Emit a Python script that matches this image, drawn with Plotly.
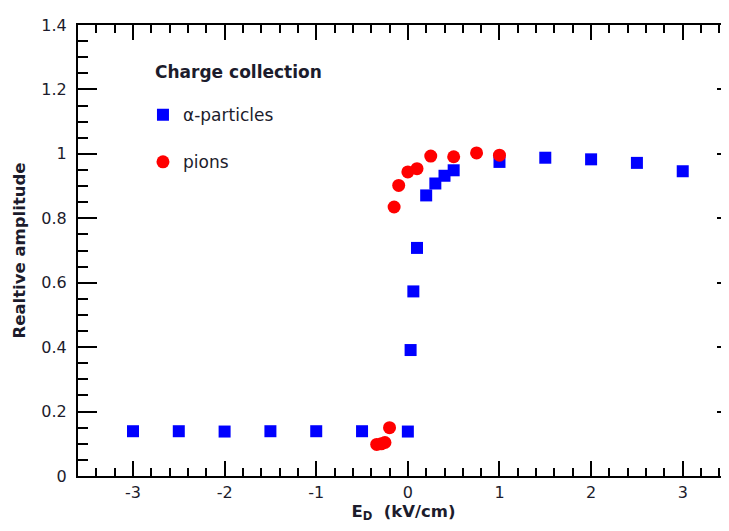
import plotly.graph_objects as go

# alpha-particles
alpha_x = [-3, -2.5, -2, -1.5, -1, -0.5, 0, 0.03, 0.06, 0.1, 0.2, 0.3, 0.4, 0.5, 1.0, 1.5, 2.0, 2.5, 3.0]
alpha_y = [0.139, 0.139, 0.138, 0.139, 0.139, 0.139, 0.138, 0.391, 0.573, 0.708, 0.871, 0.908, 0.932, 0.949, 0.975, 0.988, 0.983, 0.972, 0.946]

# pions
pion_x = [-0.34, -0.29, -0.25, -0.2, -0.15, -0.1, 0.0, 0.1, 0.25, 0.5, 0.75, 1.0]
pion_y = [0.098, 0.100, 0.104, 0.150, 0.835, 0.902, 0.944, 0.954, 0.993, 0.991, 1.003, 0.996]

x_tick_vals = [-3, -2, -1, 0, 1, 2, 3]
x_tick_text = ["-3", "-2", "-1", "0", "1", "2", "3"]
y_tick_vals = [0, 0.2, 0.4, 0.6, 0.8, 1.0, 1.2, 1.4]
y_tick_text = ["0", "0.2", "0.4", "0.6", "0.8", "1", "1.2", "1.4"]

x_range = [-3.6, 3.505]
y_range = [0, 1.4]

FONT = "DejaVu Sans"
TXT = "#1c1c2c"

fig = go.Figure()
fig.add_trace(go.Scatter(
    x=alpha_x, y=alpha_y, mode="markers", name="\u03b1-particles",
    legendgroup="a",
    marker=dict(symbol="square", size=12, color="#0000ff"),
))
fig.add_trace(go.Scatter(
    x=pion_x, y=pion_y, mode="markers", name="pions",
    legendgroup="p",
    marker=dict(symbol="circle", size=13, color="#ff0000"),
))
# dummy trace to carry the right-hand tick axis
fig.add_trace(go.Scatter(x=[None], y=[None], yaxis="y2", showlegend=False, hoverinfo="skip"))

fig.update_layout(
    width=721, height=515,
    margin=dict(l=70, r=0, t=17, b=47),
    paper_bgcolor="white", plot_bgcolor="white",
    font=dict(family=FONT, color=TXT),
    showlegend=True,
    legend=dict(
        x=0.0998, y=0.840, xanchor="left", yanchor="top",
        bgcolor="rgba(0,0,0,0)", borderwidth=0,
        font=dict(size=17, family=FONT, color=TXT),
        traceorder="grouped", tracegroupgap=22,
    ),
    xaxis=dict(
        range=x_range, tickmode="array", tickvals=x_tick_vals, ticktext=x_tick_text,
        showline=True, linecolor="black", linewidth=2, mirror="ticks",
        ticks="inside", ticklen=15, tickwidth=2, tickcolor="black",
        minor=dict(dtick=0.2, tick0=0, ticks="inside", ticklen=8, tickwidth=1.5, tickcolor="black"),
        showgrid=False, zeroline=False,
        tickfont=dict(size=16, family=FONT, color=TXT),
        ticklabelstandoff=1,
        title=dict(text="<b>E<sub>D</sub>  (kV/cm)</b>", font=dict(size=16.5, family=FONT, color=TXT), standoff=13),
        automargin=False,
    ),
    yaxis=dict(
        range=y_range, tickmode="array", tickvals=y_tick_vals, ticktext=y_tick_text,
        showline=True, linecolor="black", linewidth=2,
        ticks="inside", ticklen=19, tickwidth=2, tickcolor="black",
        minor=dict(dtick=0.05, tick0=0, ticks="inside", ticklen=10, tickwidth=1.5, tickcolor="black"),
        showgrid=False, zeroline=False,
        tickfont=dict(size=16, family=FONT, color=TXT),
        ticklabelstandoff=6,
        title=dict(text="<b>Realtive amplitude</b>", font=dict(size=16.5, family=FONT, color=TXT), standoff=12),
        automargin=False,
    ),
    yaxis2=dict(
        range=y_range, tickmode="array", tickvals=y_tick_vals, overlaying="y", side="right",
        showline=False, showticklabels=False,
        ticks="inside", ticklen=12, tickwidth=2, tickcolor="black",
        minor=dict(dtick=0.05, tick0=0, ticks="inside", ticklen=2, tickwidth=1.5, tickcolor="black"),
        showgrid=False, zeroline=False,
    ),
    annotations=[dict(
        text="<b>Charge collection</b>", xref="paper", yref="paper",
        x=0.1152, y=0.8957, xanchor="left", yanchor="middle", showarrow=False,
        font=dict(size=17, family=FONT, color=TXT),
    )],
)

fig.write_html("out.html")
